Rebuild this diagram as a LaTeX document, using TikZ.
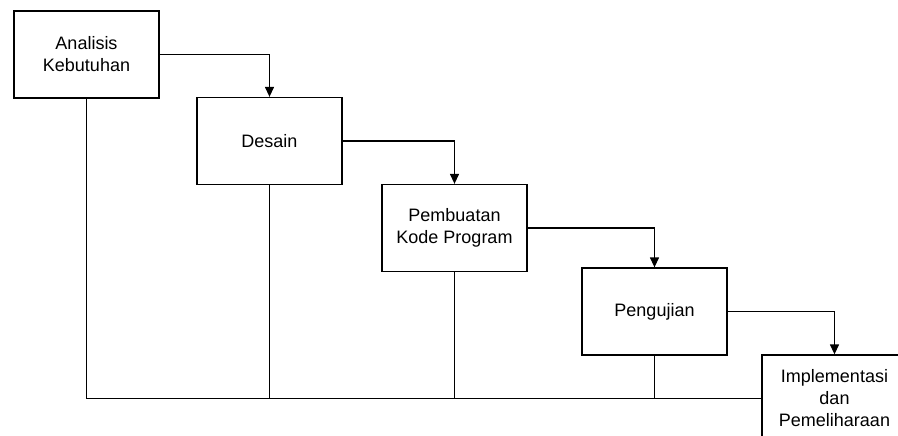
\documentclass[tikz,border=0pt]{standalone}
\usepackage{fontspec}
\setmainfont{Liberation Sans}
\usepackage{tikz}
\usetikzlibrary{arrows.meta}

\tikzset{
  phase/.style={draw, line width=1.3pt, minimum width=145pt, minimum height=87pt,
    align=center, font=\fontsize{18}{22}\selectfont, inner sep=0pt},
  flow/.style={line width=1.3pt, -{Triangle[length=10pt,width=9pt]}},
  link/.style={line width=1.3pt}
}

\begin{document}
\begin{tikzpicture}[x=1pt, y=-1pt]
  \useasboundingbox (0,0) rectangle (898,436);
  \clip (0,0) rectangle (898,436);
  % the five phases
  \node [phase] (ana) at (86.5,54.5) {Analisis\\Kebutuhan};
  \node [phase] (des) at (269.5,141) {Desain};
  \node [phase] (kode) at (454.5,228) {Pembuatan\\Kode Program};
  \node [phase] (uji) at (654.5,311.5) {Pengujian};
  \node [phase] (impl) at (834.5,398.5) {Implementasi\\dan\\Pemeliharaan};
  % steps down the waterfall
  \draw [flow] (ana.east) -| (des.north);
  \draw [flow] (des.east) -| (kode.north);
  \draw [flow] (kode.east) -| (uji.north);
  \draw [flow] (uji.east) -| (impl.north);
  % return line along the bottom
  \draw [link] (ana.south) |- (impl.west);
  \draw [link] (des.south) -- (des.south |- impl.west);
  \draw [link] (kode.south) -- (kode.south |- impl.west);
  \draw [link] (uji.south) -- (uji.south |- impl.west);
\end{tikzpicture}
\end{document}
